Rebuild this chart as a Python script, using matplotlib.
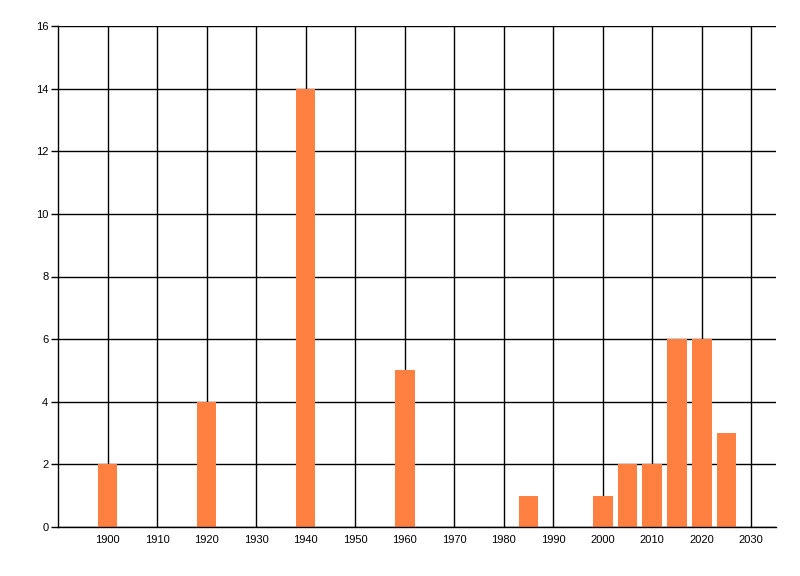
import matplotlib
matplotlib.use("Agg")
import matplotlib.pyplot as plt

# values
years = [1900, 1920, 1940, 1960, 1985, 2000, 2005, 2010, 2015, 2020, 2025]
counts = [2, 4, 14, 5, 1, 1, 2, 2, 6, 6, 3]
x_ticks = list(range(1900, 2031, 10))
y_ticks = list(range(0, 17, 2))

plt.rcParams['font.family'] = ['Liberation Sans', 'DejaVu Sans']

fig = plt.figure(figsize=(8, 5.76), dpi=100)
ax = fig.add_axes([58 / 800, 49 / 576, 718 / 800, 501 / 576])

ax.bar(years, counts, width=4, color='#ff8040', zorder=3)

ax.set_xlim(1890, 2035)
ax.set_ylim(0, 16)
ax.set_xticks(x_ticks)
ax.set_yticks(y_ticks)
ax.tick_params(axis='x', length=0, pad=6, labelsize=8)
ax.tick_params(axis='y', length=5, width=1, pad=2, labelsize=8)

ax.grid(True, color='black', linewidth=1)
ax.set_axisbelow(True)
for s in ['top', 'right']:
    ax.spines[s].set_visible(False)
for s in ['left', 'bottom']:
    ax.spines[s].set_linewidth(1)
    ax.spines[s].set_zorder(4)

fig.savefig('out.png', dpi=100)
